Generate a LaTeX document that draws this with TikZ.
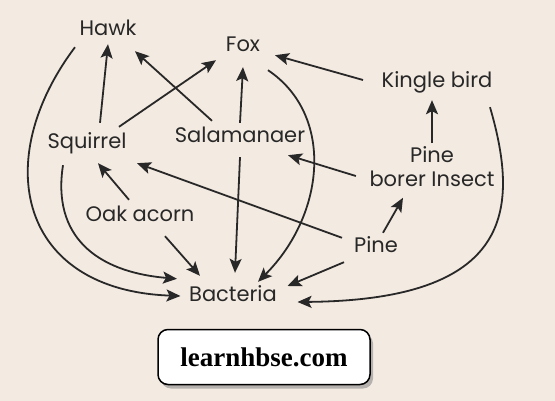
\documentclass[tikz,border=0pt]{standalone}
\usepackage{fontspec}
\setmainfont{Poppins}
\newfontfamily\sitefont{Liberation Serif}
\usepackage{tikz}
\usetikzlibrary{arrows.meta}
\usetikzlibrary{positioning}
\usetikzlibrary{shadows}
\definecolor{paper}{RGB}{243,234,225}
\definecolor{ink}{RGB}{40,40,40}

\begin{document}
\begin{tikzpicture}[x=1pt, y=-1pt, font=\fontsize{21}{24}\selectfont,
        organism/.style={inner sep=3.5pt, text height=16pt, text depth=5pt, text=ink},
        feeds/.style={draw=ink, line width=1.8pt, -{Stealth[length=14pt, width=12pt, inset=3pt]}}]
            \useasboundingbox (0,0) rectangle (555,401);
            \fill[paper] (0,0) rectangle (555,401);
            \node[organism](hawk) at (108,30){Hawk};
            \node[organism](fox) at (243,46){Fox};
            \node[organism](kingle) at (437,82){Kingle bird};
            \node[organism](squirrel) at (87,143){Squirrel};
            \node[organism](salamander) at (240,137){Salamanaer};
            \node[inner sep=3.5pt, align=center, text=ink](pineborer) at (432,167){Pine\\borer Insect};
            \node[organism](oak) at (140,216){Oak acorn};
            \node[organism](pine) at (376,247){Pine};
            \node[organism](bacteria) at (233,296){Bacteria};
            \node[draw, line width=1.5pt, rounded corners=10pt, fill=white, minimum width=212pt, minimum height=55pt,
                drop shadow={shadow xshift=3pt, shadow yshift=-4pt, fill=black!45, opacity=0.6},
                font=\sitefont\bfseries\fontsize{27}{30}\selectfont](site) at (264,357){learnhbse.com};
            % eaten by
            \draw[feeds] ([xshift=13pt,yshift=6pt]squirrel.north) -- (hawk.south);
            \draw[feeds] ([xshift=-28pt,yshift=2pt]salamander.north) -- ([xshift=27pt,yshift=-7pt]hawk.south);
            \draw[feeds] ([xshift=32pt,yshift=2pt]squirrel.north) -- ([xshift=-27pt]fox.south);
            \draw[feeds] (salamander.north) -- ([yshift=-7pt]fox.south);
            \draw[feeds] ([xshift=-15pt,yshift=2pt]kingle.west) -- ([xshift=32pt,yshift=5pt]fox.south);
            \draw[feeds] (pineborer.north) -- ([xshift=-5pt,yshift=-4pt]kingle.south);
            \draw[feeds] ([xshift=-10pt,yshift=-9pt]pineborer.west) -- ([xshift=48pt,yshift=-4pt]salamander.south);
            \draw[feeds] ([xshift=-34pt,yshift=-5pt]pine.north) -- ([xshift=50pt,yshift=-6pt]squirrel.south);
            \draw[feeds] ([xshift=-11pt,yshift=2pt]oak.north) -- ([xshift=11pt,yshift=-6pt]squirrel.south);
            \draw[feeds] ([xshift=7pt]pine.north) -- ([xshift=-29pt,yshift=-7pt]pineborer.south);
            % decomposed by
            \draw[feeds] ([xshift=-33pt,yshift=-3pt]hawk.south) .. controls +(-85,113) and +(-162,-6) .. ([xshift=-5pt]bacteria.west);
            \draw[feeds] ([xshift=-24pt,yshift=-8pt]squirrel.south) .. controls +(-11,70) and +(-82,-7) .. ([xshift=-56pt,yshift=3pt]bacteria.north);
            \draw[feeds] ([xshift=25pt,yshift=-6pt]oak.south) -- ([xshift=-33pt,yshift=6pt]bacteria.north);
            \draw[feeds] ([yshift=-6pt]salamander.south) -- ([xshift=2pt,yshift=9pt]bacteria.north);
            \draw[feeds] ([xshift=25pt,yshift=-10pt]fox.south) .. controls +(67,45) and +(67,-67) .. ([xshift=25pt]bacteria.north);
            \draw[feeds] ([xshift=-32pt,yshift=-1pt]pine.south) -- ([xshift=7pt,yshift=10pt]bacteria.east);
            \draw[feeds] ([xshift=53pt,yshift=-11pt]kingle.south) .. controls +(30,103) and +(215,-2) .. ([xshift=17pt,yshift=-6pt]bacteria.east);
        \end{tikzpicture}
\end{document}
